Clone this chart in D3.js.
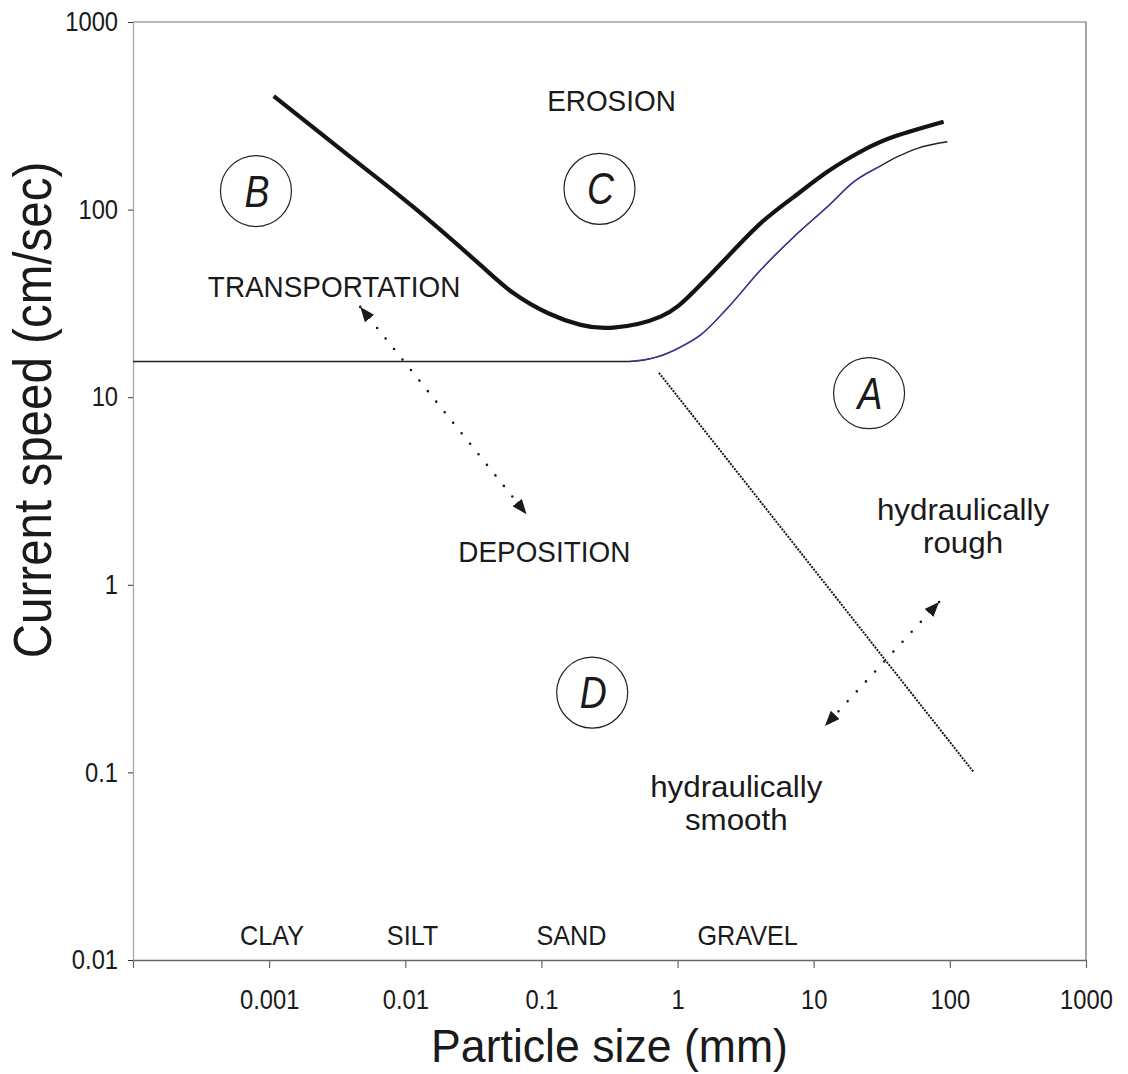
<!DOCTYPE html>
<html>
<head>
<meta charset="utf-8">
<script src="https://cdn.jsdelivr.net/npm/d3@7"></script>
<style>
  body { margin: 0; background: #fff; }
  svg { display: block; }
  text { font-family: "Liberation Sans", Arial, sans-serif; fill: #1a1a1a; }
</style>
</head>
<body>
<div id="chart"></div>
<script>
// axis ticks
const xTicks = [0.0001, 0.001, 0.01, 0.1, 1, 10, 100, 1000];
const xTickLabels = ['', '0.001', '0.01', '0.1', '1', '10', '100', '1000'];
const yTicks = [0.01, 0.1, 1, 10, 100, 1000];
const yTickLabels = ['0.01', '0.1', '1', '10', '100', '1000'];

// erosion threshold (thick curve), particle size mm / speed cm/sec
const erosionSize = [0.00108, 0.0037, 0.0115, 0.0356, 0.0622, 0.111, 0.194, 0.338, 0.75, 1.31, 2.33, 4.07, 7.16, 12.6, 22.2, 39, 90];
const erosionSpeed = [403, 198, 103, 50.7, 35.9, 28.1, 24.3, 23.5, 26.9, 36.5, 56.1, 84.5, 117, 159, 204, 245, 294];

// deposition threshold (thin curve)
const depositionSize = [0.0001, 0.445, 0.71, 1.05, 1.48, 2.32, 4.07, 7.16, 12.6, 19.8, 30.2, 41.3, 57.9, 96];
const depositionSpeed = [15.5, 15.5, 16.4, 18.5, 21.5, 29.8, 47.6, 71.7, 103.5, 141, 169.3, 191.4, 212.3, 230];
const blueSegment = [1, 10]; // point range drawn in blue

// hydraulically smooth / rough boundary
const boundarySize = [0.73, 150];
const boundarySpeed = [13.5, 0.1];

// double-headed dotted arrows
const arrowSize = [[0.00467, 0.0777], [83.4, 12.1]];
const arrowSpeed = [[30.3, 2.38], [0.81, 0.177]];

// circled zone letters
const zoneLetters = ['A', 'B', 'C', 'D'];
const zoneSize = [25.5, 0.0008, 0.267, 0.236];
const zoneSpeed = [10.5, 125.6, 129, 0.266];

// region labels (anchor = centre / baseline)
const regionLabels = ['EROSION', 'TRANSPORTATION', 'DEPOSITION'];
const regionSize = [0.327, 0.003, 0.105];
const regionSpeed = [337, 34.3, 1.33];

const flowLabels = [['hydraulically', 'rough'], ['hydraulically', 'smooth']];
const flowSize = [125, 2.7];
const flowSpeed = [2.21, 0.074];

const grainClasses = ['CLAY', 'SILT', 'SAND', 'GRAVEL'];
const grainSize = [0.00105, 0.0113, 0.166, 3.27];

const width = 1128;
const height = 1074;
const margin = {top: 22, right: 42, bottom: 114, left: 133};

const x = d3.scaleLog()
  .domain([0.0001, 1000])
  .range([margin.left, width - margin.right]);
const y = d3.scaleLog()
  .domain([0.01, 1000])
  .range([height - margin.bottom, margin.top]);

const svg = d3.select('#chart')
  .append('svg')
  .attr('width', width)
  .attr('height', height)
  .attr('viewBox', `0,0,${width},${height}`);

svg.append('rect').attr('width', width).attr('height', height).attr('fill', '#fff');

// condensed text helper
function label(g, str, px, py, size, sx, extra) {
  const t = g.append('text')
    .attr('transform', `translate(${px},${py}) scale(${sx},1)`)
    .attr('text-anchor', 'middle')
    .attr('font-size', size)
    .text(str);
  if (extra) t.attr('font-style', extra);
  return t;
}

// frame (top + right)
const [x0, x1] = x.range();
const [yb, yt] = y.range();
svg.append('path')
  .attr('d', `M${x0},${yt}H${x1}V${yb}`)
  .attr('fill', 'none')
  .attr('stroke', '#707070')
  .attr('stroke-width', 1.2);

// axes
svg.append('g')
  .attr('transform', `translate(0,${yb})`)
  .call(d3.axisBottom(x)
    .tickValues(xTicks)
    .tickFormat((d, i) => xTickLabels[i])
    .tickSize(8)
    .tickSizeOuter(0)
    .tickPadding(22))
  .call(g => g.attr('font-family', null).attr('font-size', 27))
  .call(g => g.select('.domain').attr('stroke', '#666').attr('stroke-width', 1.3))
  .call(g => g.selectAll('.tick line').attr('stroke', '#666').attr('stroke-width', 1.2))
  .call(g => g.selectAll('.tick text').attr('fill', '#1a1a1a').attr('transform', 'scale(0.88,1)'));

svg.append('g')
  .attr('transform', `translate(${x0},0)`)
  .call(d3.axisLeft(y)
    .tickValues(yTicks)
    .tickFormat((d, i) => yTickLabels[i])
    .tickSize(5)
    .tickSizeOuter(0)
    .tickPadding(12))
  .call(g => g.attr('font-family', null).attr('font-size', 27))
  .call(g => g.select('.domain').attr('stroke', '#a8a8a8').attr('stroke-width', 1.3))
  .call(g => g.selectAll('.tick line').attr('stroke', '#333').attr('stroke-width', 1))
  .call(g => g.selectAll('.tick text').attr('fill', '#1a1a1a').attr('transform', 'scale(0.88,1)'));

// axis titles
label(svg, 'Particle size (mm)', (x0 + x1) / 2, 1062, 46, 0.97);
svg.append('text')
  .attr('transform', 'translate(51,410) rotate(-90) scale(0.88,1)')
  .attr('text-anchor', 'middle')
  .attr('font-size', 54)
  .text('Current speed (cm/sec)');

// curves
const line = d3.line()
  .x(d => x(d[0]))
  .y(d => y(d[1]))
  .curve(d3.curveMonotoneX);

const erosion = erosionSize.map((s, i) => [s, erosionSpeed[i]]);
const deposition = depositionSize.map((s, i) => [s, depositionSpeed[i]]);

svg.append('path')
  .attr('d', line(deposition))
  .attr('fill', 'none')
  .attr('stroke', '#222')
  .attr('stroke-width', 1.3);

svg.append('path')
  .attr('d', line(deposition.slice(blueSegment[0], blueSegment[1] + 1)))
  .attr('fill', 'none')
  .attr('stroke', '#3a3aa6')
  .attr('stroke-width', 1.4);

svg.append('path')
  .attr('d', line.curve(d3.curveNatural)(erosion))
  .attr('fill', 'none')
  .attr('stroke', '#141414')
  .attr('stroke-width', 4.2)
  .attr('stroke-linejoin', 'round');

// smooth / rough boundary
svg.append('path')
  .attr('d', d3.line()(boundarySize.map((s, i) => [x(s), y(boundarySpeed[i])])))
  .attr('fill', 'none')
  .attr('stroke', '#1a1a1a')
  .attr('stroke-width', 2)
  .attr('stroke-dasharray', '2,1.2');

// arrows
svg.append('defs').append('marker')
  .attr('id', 'head')
  .attr('viewBox', '0 0 15 12')
  .attr('refX', 15)
  .attr('refY', 6)
  .attr('markerWidth', 15)
  .attr('markerHeight', 12)
  .attr('markerUnits', 'userSpaceOnUse')
  .attr('orient', 'auto-start-reverse')
  .append('path')
  .attr('d', 'M0,0L15,6L0,12Z')
  .attr('fill', '#1a1a1a');

arrowSize.forEach((sz, i) => {
  const pts = sz.map((s, j) => [x(s), y(arrowSpeed[i][j])]);
  svg.append('path')
    .attr('d', d3.line()(pts))
    .attr('fill', 'none')
    .attr('stroke', '#1a1a1a')
    .attr('stroke-width', 2.6)
    .attr('stroke-linecap', 'round')
    .attr('stroke-dasharray', '0,13.5')
    .attr('marker-start', 'url(#head)')
    .attr('marker-end', 'url(#head)');
});

// zone circles
const zones = svg.append('g');
zoneLetters.forEach((L, i) => {
  const cx = x(zoneSize[i]);
  const cy = y(zoneSpeed[i]);
  zones.append('circle')
    .attr('cx', cx).attr('cy', cy).attr('r', 35.5)
    .attr('fill', 'none')
    .attr('stroke', '#222')
    .attr('stroke-width', 1.2);
  label(zones, L, cx + 1, cy + 15.5, 44, 0.85, 'italic');
});

// text labels
regionLabels.forEach((t, i) => label(svg, t, x(regionSize[i]), y(regionSpeed[i]), 30, 0.93));

flowLabels.forEach((lines, i) => {
  lines.forEach((t, j) => label(svg, t, x(flowSize[i]), y(flowSpeed[i]) + j * 33, 29, 1.08));
});

grainClasses.forEach((t, i) => label(svg, t, x(grainSize[i]), yb - 15, 28, 0.9));
</script>
</body>
</html>
